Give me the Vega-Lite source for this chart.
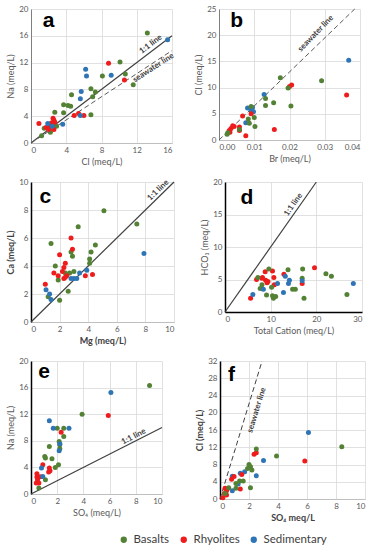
{
"$schema":"https://vega.github.io/schema/vega-lite/v6.json",
"background":"white",
"padding":{"left":6,"top":5,"right":4,"bottom":4},
"config":{
 "font":"Lato",
 "view":{"stroke":null},
 "axis":{"grid":true,"gridColor":"#d9d9d9","gridWidth":0.8,"domainColor":"#bfbfbf","tickSize":0,"labelFontSize":8,"labelColor":"#595959","titleFontSize":9,"titleColor":"#595959","titleFontWeight":"normal","labelPadding":3,"titlePadding":3},
 "legend":{"orient":"none","legendX":87,"legendY":525,"direction":"horizontal","title":null,"symbolType":"circle","symbolSize":40,"labelFontSize":11.5,"labelColor":"#404040","columnPadding":8,"gridAlign":"none","symbolStrokeWidth":0}
},
"datasets":{
"pts":[
{"p":"a","g":"Basalts","x":13.2,"y":16.4},{"p":"a","g":"Basalts","x":10.1,"y":12.1},{"p":"a","g":"Basalts","x":10.7,"y":10.3},{"p":"a","g":"Basalts","x":11.6,"y":8.7},{"p":"a","g":"Basalts","x":8.1,"y":10.0},{"p":"a","g":"Basalts","x":6.8,"y":8.1},{"p":"a","g":"Basalts","x":7.3,"y":7.6},{"p":"a","g":"Basalts","x":7.0,"y":6.9},{"p":"a","g":"Basalts","x":6.8,"y":4.2},{"p":"a","g":"Basalts","x":4.6,"y":7.2},{"p":"a","g":"Basalts","x":3.7,"y":5.7},{"p":"a","g":"Basalts","x":4.2,"y":5.6},{"p":"a","g":"Basalts","x":4.5,"y":5.5},{"p":"a","g":"Basalts","x":3.7,"y":4.5},{"p":"a","g":"Basalts","x":2.7,"y":4.6},{"p":"a","g":"Basalts","x":1.5,"y":2.2},{"p":"a","g":"Basalts","x":2.2,"y":1.6},{"p":"a","g":"Basalts","x":1.2,"y":1.1},{"p":"a","g":"Basalts","x":2.9,"y":2.5},
{"p":"a","g":"Rhyolites","x":8.8,"y":11.9},{"p":"a","g":"Rhyolites","x":10.6,"y":9.4},{"p":"a","g":"Rhyolites","x":0.9,"y":2.9},{"p":"a","g":"Rhyolites","x":1.7,"y":2.3},{"p":"a","g":"Rhyolites","x":2.5,"y":3.7},{"p":"a","g":"Rhyolites","x":2.6,"y":3.4},{"p":"a","g":"Rhyolites","x":2.7,"y":3.1},{"p":"a","g":"Rhyolites","x":2.2,"y":2.5},{"p":"a","g":"Rhyolites","x":2.0,"y":2.0},{"p":"a","g":"Rhyolites","x":2.6,"y":2.0},{"p":"a","g":"Rhyolites","x":4.9,"y":4.1},{"p":"a","g":"Rhyolites","x":5.4,"y":4.4},{"p":"a","g":"Rhyolites","x":6.0,"y":4.1},{"p":"a","g":"Rhyolites","x":2.3,"y":3.0},
{"p":"a","g":"Sedimentary","x":15.5,"y":15.4},{"p":"a","g":"Sedimentary","x":6.2,"y":11.0},{"p":"a","g":"Sedimentary","x":6.3,"y":10.0},{"p":"a","g":"Sedimentary","x":9.1,"y":10.1},{"p":"a","g":"Sedimentary","x":5.7,"y":7.7},{"p":"a","g":"Sedimentary","x":5.6,"y":6.6},{"p":"a","g":"Sedimentary","x":5.6,"y":4.1},{"p":"a","g":"Sedimentary","x":3.6,"y":2.8},{"p":"a","g":"Sedimentary","x":1.9,"y":2.9},{"p":"a","g":"Sedimentary","x":2.4,"y":2.5},
{"p":"b","g":"Sedimentary","x":0.0368,"y":15.2},{"p":"b","g":"Sedimentary","x":0.0128,"y":8.7},{"p":"b","g":"Sedimentary","x":0.0081,"y":6.1},{"p":"b","g":"Sedimentary","x":0.0091,"y":5.7},{"p":"b","g":"Sedimentary","x":0.0098,"y":5.4},{"p":"b","g":"Sedimentary","x":0.0076,"y":3.3},{"p":"b","g":"Sedimentary","x":0.0095,"y":6.2},
{"p":"b","g":"Rhyolites","x":0.0362,"y":8.6},{"p":"b","g":"Rhyolites","x":0.0200,"y":10.2},{"p":"b","g":"Rhyolites","x":0.0206,"y":10.5},{"p":"b","g":"Rhyolites","x":0.0157,"y":2.0},{"p":"b","g":"Rhyolites","x":0.0076,"y":0.8},{"p":"b","g":"Rhyolites","x":0.0067,"y":4.6},{"p":"b","g":"Rhyolites","x":0.0091,"y":5.0},{"p":"b","g":"Rhyolites","x":0.0043,"y":2.6},{"p":"b","g":"Rhyolites","x":0.0034,"y":2.2},{"p":"b","g":"Rhyolites","x":0.0029,"y":1.8},{"p":"b","g":"Rhyolites","x":0.0058,"y":2.5},{"p":"b","g":"Rhyolites","x":0.0058,"y":1.8},{"p":"b","g":"Rhyolites","x":0.0039,"y":2.7},{"p":"b","g":"Rhyolites","x":0.0031,"y":1.5},
{"p":"b","g":"Basalts","x":0.0174,"y":11.9},{"p":"b","g":"Basalts","x":0.0291,"y":11.3},{"p":"b","g":"Basalts","x":0.0196,"y":9.9},{"p":"b","g":"Basalts","x":0.0132,"y":7.9},{"p":"b","g":"Basalts","x":0.0132,"y":6.6},{"p":"b","g":"Basalts","x":0.0155,"y":7.1},{"p":"b","g":"Basalts","x":0.0204,"y":6.5},{"p":"b","g":"Basalts","x":0.0091,"y":6.4},{"p":"b","g":"Basalts","x":0.0100,"y":4.3},{"p":"b","g":"Basalts","x":0.0083,"y":4.0},{"p":"b","g":"Basalts","x":0.0086,"y":3.2},{"p":"b","g":"Basalts","x":0.0102,"y":2.6},{"p":"b","g":"Basalts","x":0.0058,"y":2.0},{"p":"b","g":"Basalts","x":0.0023,"y":1.1},{"p":"b","g":"Basalts","x":0.0025,"y":1.4},
{"p":"c","g":"Basalts","x":5.1,"y":7.95},{"p":"c","g":"Basalts","x":7.4,"y":7.0},{"p":"c","g":"Basalts","x":3.3,"y":6.8},{"p":"c","g":"Basalts","x":1.4,"y":5.6},{"p":"c","g":"Basalts","x":4.5,"y":5.5},{"p":"c","g":"Basalts","x":4.2,"y":5.0},{"p":"c","g":"Basalts","x":4.1,"y":4.5},{"p":"c","g":"Basalts","x":4.1,"y":4.2},{"p":"c","g":"Basalts","x":2.8,"y":5.0},{"p":"c","g":"Basalts","x":2.9,"y":4.7},{"p":"c","g":"Basalts","x":1.7,"y":4.0},{"p":"c","g":"Basalts","x":2.7,"y":3.5},{"p":"c","g":"Basalts","x":2.4,"y":3.5},{"p":"c","g":"Basalts","x":1.9,"y":3.0},{"p":"c","g":"Basalts","x":2.6,"y":2.2},{"p":"c","g":"Basalts","x":2.0,"y":1.55},{"p":"c","g":"Basalts","x":1.2,"y":1.8},{"p":"c","g":"Basalts","x":3.0,"y":3.6},
{"p":"c","g":"Rhyolites","x":2.8,"y":6.0},{"p":"c","g":"Rhyolites","x":2.9,"y":5.2},{"p":"c","g":"Rhyolites","x":2.0,"y":4.8},{"p":"c","g":"Rhyolites","x":2.4,"y":4.2},{"p":"c","g":"Rhyolites","x":2.3,"y":3.9},{"p":"c","g":"Rhyolites","x":2.2,"y":3.6},{"p":"c","g":"Rhyolites","x":1.6,"y":3.5},{"p":"c","g":"Rhyolites","x":1.9,"y":3.3},{"p":"c","g":"Rhyolites","x":2.3,"y":3.1},{"p":"c","g":"Rhyolites","x":2.5,"y":3.3},{"p":"c","g":"Rhyolites","x":3.8,"y":3.3},{"p":"c","g":"Rhyolites","x":4.3,"y":3.4},{"p":"c","g":"Rhyolites","x":1.0,"y":2.7},{"p":"c","g":"Rhyolites","x":2.4,"y":3.2},
{"p":"c","g":"Sedimentary","x":7.9,"y":4.9},{"p":"c","g":"Sedimentary","x":3.9,"y":3.7},{"p":"c","g":"Sedimentary","x":3.4,"y":3.5},{"p":"c","g":"Sedimentary","x":3.0,"y":3.1},{"p":"c","g":"Sedimentary","x":3.2,"y":3.1},{"p":"c","g":"Sedimentary","x":2.8,"y":3.1},{"p":"c","g":"Sedimentary","x":1.05,"y":2.3},{"p":"c","g":"Sedimentary","x":1.3,"y":2.0},{"p":"c","g":"Sedimentary","x":1.4,"y":1.6},
{"p":"d","g":"Rhyolites","x":19.6,"y":6.8},{"p":"d","g":"Rhyolites","x":8.8,"y":6.2},{"p":"d","g":"Rhyolites","x":10.4,"y":6.3},{"p":"d","g":"Rhyolites","x":6.9,"y":5.0},{"p":"d","g":"Rhyolites","x":8.2,"y":5.3},{"p":"d","g":"Rhyolites","x":8.9,"y":4.9},{"p":"d","g":"Rhyolites","x":9.4,"y":4.7},{"p":"d","g":"Rhyolites","x":9.2,"y":4.5},{"p":"d","g":"Rhyolites","x":10.7,"y":5.3},{"p":"d","g":"Rhyolites","x":10.8,"y":4.2},{"p":"d","g":"Rhyolites","x":12.9,"y":5.8},{"p":"d","g":"Rhyolites","x":16.9,"y":4.4},{"p":"d","g":"Rhyolites","x":5.6,"y":2.1},{"p":"d","g":"Rhyolites","x":8.1,"y":5.2},
{"p":"d","g":"Basalts","x":9.6,"y":6.6},{"p":"d","g":"Basalts","x":13.8,"y":6.5},{"p":"d","g":"Basalts","x":17.0,"y":6.6},{"p":"d","g":"Basalts","x":22.1,"y":5.9},{"p":"d","g":"Basalts","x":23.3,"y":5.5},{"p":"d","g":"Basalts","x":16.9,"y":5.2},{"p":"d","g":"Basalts","x":8.1,"y":4.2},{"p":"d","g":"Basalts","x":7.7,"y":3.6},{"p":"d","g":"Basalts","x":10.2,"y":3.8},{"p":"d","g":"Basalts","x":14.8,"y":3.5},{"p":"d","g":"Basalts","x":15.4,"y":3.5},{"p":"d","g":"Basalts","x":9.1,"y":2.6},{"p":"d","g":"Basalts","x":10.4,"y":2.5},{"p":"d","g":"Basalts","x":11.1,"y":2.4},{"p":"d","g":"Basalts","x":10.6,"y":2.1},{"p":"d","g":"Basalts","x":17.3,"y":2.1},{"p":"d","g":"Basalts","x":26.7,"y":2.7},{"p":"d","g":"Basalts","x":7.2,"y":5.3},
{"p":"d","g":"Sedimentary","x":13.2,"y":5.5},{"p":"d","g":"Sedimentary","x":14.1,"y":4.9},{"p":"d","g":"Sedimentary","x":13.9,"y":4.4},{"p":"d","g":"Sedimentary","x":16.9,"y":4.8},{"p":"d","g":"Sedimentary","x":11.5,"y":4.4},{"p":"d","g":"Sedimentary","x":8.4,"y":3.5},{"p":"d","g":"Sedimentary","x":6.1,"y":2.7},{"p":"d","g":"Sedimentary","x":12.8,"y":3.0},{"p":"d","g":"Sedimentary","x":28.1,"y":4.4},
{"p":"e","g":"Basalts","x":9.05,"y":16.3},{"p":"e","g":"Basalts","x":3.9,"y":12.0},{"p":"e","g":"Basalts","x":2.5,"y":9.9},{"p":"e","g":"Basalts","x":2.0,"y":9.9},{"p":"e","g":"Basalts","x":2.5,"y":8.65},{"p":"e","g":"Basalts","x":1.4,"y":7.15},{"p":"e","g":"Basalts","x":2.15,"y":7.9},{"p":"e","g":"Basalts","x":2.2,"y":6.8},{"p":"e","g":"Basalts","x":1.05,"y":5.65},{"p":"e","g":"Basalts","x":1.1,"y":5.4},{"p":"e","g":"Basalts","x":1.6,"y":5.3},{"p":"e","g":"Basalts","x":2.1,"y":4.4},{"p":"e","g":"Basalts","x":1.85,"y":4.0},{"p":"e","g":"Basalts","x":1.1,"y":2.15},{"p":"e","g":"Basalts","x":0.6,"y":0.9},{"p":"e","g":"Basalts","x":2.2,"y":7.4},
{"p":"e","g":"Rhyolites","x":5.9,"y":11.8},{"p":"e","g":"Rhyolites","x":2.3,"y":9.3},{"p":"e","g":"Rhyolites","x":0.9,"y":4.4},{"p":"e","g":"Rhyolites","x":1.4,"y":3.9},{"p":"e","g":"Rhyolites","x":1.45,"y":3.5},{"p":"e","g":"Rhyolites","x":1.35,"y":3.3},{"p":"e","g":"Rhyolites","x":0.45,"y":3.05},{"p":"e","g":"Rhyolites","x":0.45,"y":2.55},{"p":"e","g":"Rhyolites","x":0.5,"y":2.15},{"p":"e","g":"Rhyolites","x":0.4,"y":1.65},{"p":"e","g":"Rhyolites","x":0.6,"y":1.65},{"p":"e","g":"Rhyolites","x":0.7,"y":2.6},
{"p":"e","g":"Sedimentary","x":6.1,"y":15.25},{"p":"e","g":"Sedimentary","x":1.4,"y":11.0},{"p":"e","g":"Sedimentary","x":1.7,"y":9.9},{"p":"e","g":"Sedimentary","x":2.9,"y":9.9},{"p":"e","g":"Sedimentary","x":2.2,"y":7.55},{"p":"e","g":"Sedimentary","x":2.15,"y":6.5},{"p":"e","g":"Sedimentary","x":0.8,"y":3.9},{"p":"e","g":"Sedimentary","x":0.9,"y":2.65},
{"p":"f","g":"Sedimentary","x":6.1,"y":15.4},{"p":"f","g":"Sedimentary","x":3.0,"y":8.9},{"p":"f","g":"Sedimentary","x":2.5,"y":5.4},{"p":"f","g":"Sedimentary","x":1.4,"y":6.0},{"p":"f","g":"Sedimentary","x":1.7,"y":6.3},{"p":"f","g":"Sedimentary","x":0.85,"y":5.3},{"p":"f","g":"Sedimentary","x":0.85,"y":1.9},{"p":"f","g":"Sedimentary","x":1.25,"y":3.5},
{"p":"f","g":"Rhyolites","x":5.85,"y":8.8},{"p":"f","g":"Rhyolites","x":2.35,"y":10.4},{"p":"f","g":"Rhyolites","x":2.5,"y":10.7},{"p":"f","g":"Rhyolites","x":0.8,"y":4.6},{"p":"f","g":"Rhyolites","x":0.97,"y":5.2},{"p":"f","g":"Rhyolites","x":1.5,"y":5.7},{"p":"f","g":"Rhyolites","x":1.4,"y":2.3},{"p":"f","g":"Rhyolites","x":0.35,"y":2.5},{"p":"f","g":"Rhyolites","x":0.5,"y":2.3},{"p":"f","g":"Rhyolites","x":0.3,"y":1.3},{"p":"f","g":"Rhyolites","x":0.45,"y":0.9},{"p":"f","g":"Rhyolites","x":0.45,"y":1.9},{"p":"f","g":"Rhyolites","x":0.2,"y":0.3},
{"p":"f","g":"Basalts","x":8.4,"y":12.1},{"p":"f","g":"Basalts","x":2.5,"y":11.6},{"p":"f","g":"Basalts","x":3.9,"y":10.0},{"p":"f","g":"Basalts","x":2.0,"y":8.0},{"p":"f","g":"Basalts","x":2.1,"y":7.5},{"p":"f","g":"Basalts","x":1.9,"y":7.1},{"p":"f","g":"Basalts","x":2.2,"y":6.7},{"p":"f","g":"Basalts","x":1.6,"y":4.2},{"p":"f","g":"Basalts","x":1.35,"y":4.2},{"p":"f","g":"Basalts","x":1.1,"y":3.6},{"p":"f","g":"Basalts","x":2.1,"y":2.6},{"p":"f","g":"Basalts","x":1.1,"y":2.5},{"p":"f","g":"Basalts","x":0.35,"y":1.3},{"p":"f","g":"Basalts","x":0.6,"y":2.6}
],
"lines":[
{"p":"a1","x":0,"y":0},{"p":"a1","x":16,"y":16},
{"p":"a2","x":0,"y":0},{"p":"a2","x":16,"y":13.8},
{"p":"b2","x":0,"y":0},{"p":"b2","x":0.0385,"y":25},
{"p":"c1","x":0,"y":0},{"p":"c1","x":10,"y":10},
{"p":"d1","x":0,"y":0},{"p":"d1","x":20,"y":20},
{"p":"e1","x":0,"y":0},{"p":"e1","x":10,"y":10},
{"p":"f2","x":0,"y":0},{"p":"f2","x":2.9,"y":32}
],
"notes":[
{"p":"aL","t":"a","x":2.0,"y":18.2},{"p":"a1","t":"1:1 line","x":13.6,"y":14.7},{"p":"a2","t":"seawater line","x":13.9,"y":11.2},
{"p":"bL","t":"b","x":0.005,"y":22.7},{"p":"b2","t":"seawater line","x":0.0275,"y":20.3},
{"p":"cL","t":"c","x":1.0,"y":8.9},{"p":"c1","t":"1:1 line","x":8.9,"y":9.4},
{"p":"dL","t":"d","x":4.8,"y":17.6},{"p":"d1","t":"1:1 line","x":15.0,"y":16.5},
{"p":"eL","t":"e","x":1.0,"y":18.4},{"p":"e1","t":"1:1 line","x":7.85,"y":8.6},
{"p":"fL","t":"f","x":0.8,"y":28.7},{"p":"f2","t":"seawater line","x":2.55,"y":20.6}
]
},
"resolve":{"scale":{"color":"shared"},"legend":{"color":"shared"}},
"spacing":12,
"vconcat":[
{"spacing":18,"hconcat":[
 {"width":141,"height":134,
  "encoding":{"x":{"field":"x","type":"quantitative","scale":{"domain":[0,16],"nice":false},"axis":{"values":[0,4,8,12,16],"title":"Cl (meq/L)"}},
              "y":{"field":"y","type":"quantitative","scale":{"domain":[0,20],"nice":false},"axis":{"values":[0,4,8,12,16,20],"title":"Na (meq/L)","domainColor":"#7f7f7f"}}},
  "layer":[
   {"data":{"name":"lines"},"transform":[{"filter":"datum.p==='a1'"}],"mark":{"type":"line","color":"#404040","strokeWidth":1.2},"encoding":{}},
   {"data":{"name":"lines"},"transform":[{"filter":"datum.p==='a2'"}],"mark":{"type":"line","color":"#595959","strokeWidth":1,"strokeDash":[5,3]},"encoding":{}},
   {"data":{"name":"pts"},"transform":[{"filter":"datum.p==='a'"}],"mark":{"type":"circle","size":25,"opacity":1},
    "encoding":{"color":{"field":"g","type":"nominal","scale":{"domain":["Basalts","Rhyolites","Sedimentary"],"range":["#548235","#ee1c1c","#2e75b6"]}}}},
   {"data":{"name":"notes"},"transform":[{"filter":"datum.p==='aL'"}],"mark":{"type":"text","fontSize":21,"fontWeight":"bold","color":"#000","font":"Liberation Sans"},"encoding":{"text":{"field":"t"}}},
   {"data":{"name":"notes"},"transform":[{"filter":"datum.p==='a1'"}],"mark":{"type":"text","fontSize":8,"fontWeight":"bold","color":"#404040","angle":-37},"encoding":{"text":{"field":"t"}}},
   {"data":{"name":"notes"},"transform":[{"filter":"datum.p==='a2'"}],"mark":{"type":"text","fontSize":8,"fontWeight":"bold","color":"#404040","angle":-33},"encoding":{"text":{"field":"t"}}}
  ]},
 {"width":141,"height":131,
  "encoding":{"x":{"field":"x","type":"quantitative","scale":{"domain":[0,0.04],"nice":false},"axis":{"values":[0,0.01,0.02,0.03,0.04],"format":".2f","title":"Br (meq/L)"}},
              "y":{"field":"y","type":"quantitative","scale":{"domain":[0,25],"nice":false},"axis":{"values":[0,5,10,15,20,25],"title":"Cl (meq/L)","domainColor":"#7f7f7f"}}},
  "layer":[
   {"data":{"name":"lines"},"transform":[{"filter":"datum.p==='b2'"}],"mark":{"type":"line","color":"#595959","strokeWidth":1,"strokeDash":[5,3]},"encoding":{}},
   {"data":{"name":"pts"},"transform":[{"filter":"datum.p==='b'"}],"mark":{"type":"circle","size":25,"opacity":1},
    "encoding":{"color":{"field":"g","type":"nominal"}}},
   {"data":{"name":"notes"},"transform":[{"filter":"datum.p==='bL'"}],"mark":{"type":"text","fontSize":21,"fontWeight":"bold","color":"#000","font":"Liberation Sans"},"encoding":{"text":{"field":"t"}}},
   {"data":{"name":"notes"},"transform":[{"filter":"datum.p==='b2'"}],"mark":{"type":"text","fontSize":8,"fontWeight":"bold","color":"#404040","angle":-46},"encoding":{"text":{"field":"t"}}}
  ]}
]},
{"spacing":23,"hconcat":[
 {"width":143,"height":140,
  "encoding":{"x":{"field":"x","type":"quantitative","scale":{"domain":[0,10],"nice":false},"axis":{"values":[0,2,4,6,8,10],"title":"Mg (meq/L)","titleFontWeight":"bold","titleColor":"#404040"}},
              "y":{"field":"y","type":"quantitative","scale":{"domain":[0,10],"nice":false},"axis":{"values":[0,2,4,6,8,10],"title":"Ca (meq/L)","titleFontWeight":"bold","titleColor":"#404040","domainColor":"#000","domainWidth":1.5}}},
  "layer":[
   {"data":{"name":"lines"},"transform":[{"filter":"datum.p==='c1'"}],"mark":{"type":"line","color":"#404040","strokeWidth":1.2},"encoding":{}},
   {"data":{"name":"pts"},"transform":[{"filter":"datum.p==='c'"}],"mark":{"type":"circle","size":25,"opacity":1},
    "encoding":{"color":{"field":"g","type":"nominal"}}},
   {"data":{"name":"notes"},"transform":[{"filter":"datum.p==='cL'"}],"mark":{"type":"text","fontSize":21,"fontWeight":"bold","color":"#000","font":"Liberation Sans"},"encoding":{"text":{"field":"t"}}},
   {"data":{"name":"notes"},"transform":[{"filter":"datum.p==='c1'"}],"mark":{"type":"text","fontSize":8,"fontWeight":"bold","color":"#404040","angle":-44},"encoding":{"text":{"field":"t"}}}
  ]},
 {"width":137,"height":130,
  "encoding":{"x":{"field":"x","type":"quantitative","scale":{"domain":[0,30],"nice":false},"axis":{"values":[0,10,20,30],"title":"Total Cation (meq/L)","domainColor":"#000","domainWidth":1.5}},
              "y":{"field":"y","type":"quantitative","scale":{"domain":[0,20],"nice":false},"axis":{"values":[0,5,10,15,20],"title":"HCO₃ (meq/L)","domainColor":"#000","domainWidth":1.5}}},
  "layer":[
   {"data":{"name":"lines"},"transform":[{"filter":"datum.p==='d1'"}],"mark":{"type":"line","color":"#404040","strokeWidth":1.2},"encoding":{}},
   {"data":{"name":"pts"},"transform":[{"filter":"datum.p==='d'"}],"mark":{"type":"circle","size":25,"opacity":1},
    "encoding":{"color":{"field":"g","type":"nominal"}}},
   {"data":{"name":"notes"},"transform":[{"filter":"datum.p==='dL'"}],"mark":{"type":"text","fontSize":21,"fontWeight":"bold","color":"#000","font":"Liberation Sans"},"encoding":{"text":{"field":"t"}}},
   {"data":{"name":"notes"},"transform":[{"filter":"datum.p==='d1'"}],"mark":{"type":"text","fontSize":8,"fontWeight":"bold","color":"#404040","angle":-55},"encoding":{"text":{"field":"t"}}}
  ]}
]},
{"spacing":30,"hconcat":[
 {"width":131,"height":133,
  "encoding":{"x":{"field":"x","type":"quantitative","scale":{"domain":[0,10],"nice":false},"axis":{"values":[0,2,4,6,8,10],"title":"SO₄ (meq/L)"}},
              "y":{"field":"y","type":"quantitative","scale":{"domain":[0,20],"nice":false},"axis":{"values":[0,4,8,12,16,20],"title":"Na (meq/L)","domainColor":"#000","domainWidth":1.5}}},
  "layer":[
   {"data":{"name":"lines"},"transform":[{"filter":"datum.p==='e1'"}],"mark":{"type":"line","color":"#404040","strokeWidth":1.2},"encoding":{}},
   {"data":{"name":"pts"},"transform":[{"filter":"datum.p==='e'"}],"mark":{"type":"circle","size":25,"opacity":1},
    "encoding":{"color":{"field":"g","type":"nominal"}}},
   {"data":{"name":"notes"},"transform":[{"filter":"datum.p==='eL'"}],"mark":{"type":"text","fontSize":21,"fontWeight":"bold","color":"#000","font":"Liberation Sans"},"encoding":{"text":{"field":"t"}}},
   {"data":{"name":"notes"},"transform":[{"filter":"datum.p==='e1'"}],"mark":{"type":"text","fontSize":8,"fontWeight":"bold","color":"#404040","angle":-27},"encoding":{"text":{"field":"t"}}}
  ]},
 {"width":145,"height":138,
  "encoding":{"x":{"field":"x","type":"quantitative","scale":{"domain":[0,10],"nice":false},"axis":{"values":[0,2,4,6,8,10],"title":"SO₄ meq/L","titleFontWeight":"bold","titleColor":"#404040"}},
              "y":{"field":"y","type":"quantitative","scale":{"domain":[0,32],"nice":false},"axis":{"values":[0,4,8,12,16,20,24,28,32],"title":"Cl (meq/L)","titleFontWeight":"bold","titleColor":"#404040","domainColor":"#000","domainWidth":1.5}}},
  "layer":[
   {"data":{"name":"lines"},"transform":[{"filter":"datum.p==='f2'"}],"mark":{"type":"line","color":"#404040","strokeWidth":1,"strokeDash":[5,3]},"encoding":{}},
   {"data":{"name":"pts"},"transform":[{"filter":"datum.p==='f'"}],"mark":{"type":"circle","size":25,"opacity":1},
    "encoding":{"color":{"field":"g","type":"nominal"}}},
   {"data":{"name":"notes"},"transform":[{"filter":"datum.p==='fL'"}],"mark":{"type":"text","fontSize":21,"fontWeight":"bold","color":"#000","font":"Liberation Sans"},"encoding":{"text":{"field":"t"}}},
   {"data":{"name":"notes"},"transform":[{"filter":"datum.p==='f2'"}],"mark":{"type":"text","fontSize":8,"fontWeight":"bold","color":"#404040","angle":-73},"encoding":{"text":{"field":"t"}}}
  ]}
]}
]
}
